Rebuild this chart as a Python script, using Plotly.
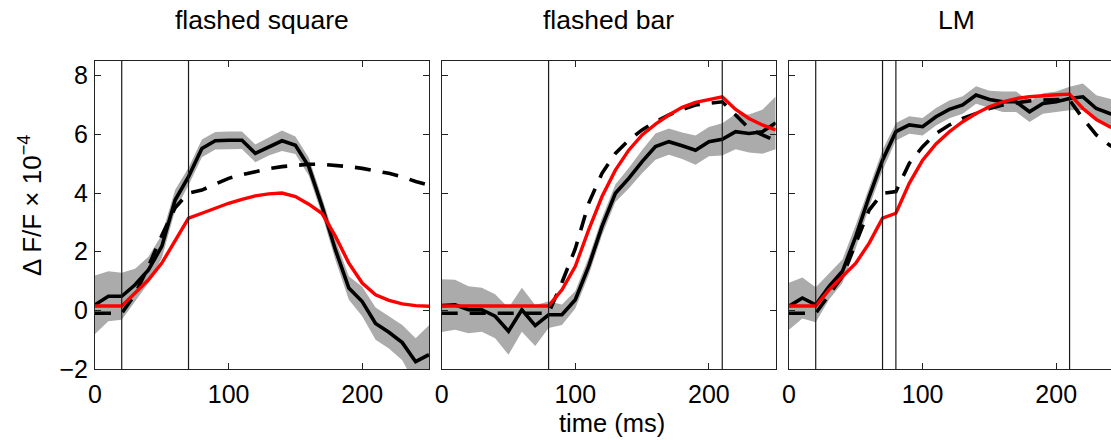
import plotly.graph_objects as go

# ---------------- data ----------------
t = [0, 10, 20, 30, 40, 50, 60, 70, 80, 90, 100, 110, 120, 130, 140, 150,
     160, 170, 180, 190, 200, 210, 220, 230, 240, 250]

titles = ["flashed square", "flashed bar", "LM"]

# flashed square
sq_mean = [0.19, 0.48, 0.48, 0.87, 1.38, 2.18, 3.76, 4.56, 5.52, 5.78, 5.8, 5.8, 5.35,
           5.58, 5.78, 5.63, 4.9, 3.54, 2.06, 0.76, 0.3, -0.45, -0.75, -1.1, -1.75, -1.51]
sq_sem = [1.0, 0.85, 0.8, 0.55, 0.45, 0.4, 0.35, 0.3, 0.3, 0.3, 0.3, 0.3, 0.3,
          0.3, 0.35, 0.3, 0.3, 0.3, 0.35, 0.4, 0.5, 0.55, 0.55, 0.6, 0.8, 1.0]
sq_model1 = [-0.1, -0.1, -0.1, 0.55, 1.5, 2.55, 3.5, 4.0, 4.1, 4.3, 4.5, 4.62, 4.73,
             4.83, 4.9, 4.95, 4.98, 4.98, 4.95, 4.9, 4.84, 4.77, 4.67, 4.55, 4.39, 4.27]
sq_model2 = [0.15, 0.15, 0.15, 0.59, 1.04, 1.61, 2.4, 3.14, 3.31, 3.48, 3.65, 3.78, 3.9,
             3.97, 4.0, 3.88, 3.62, 3.3, 2.52, 1.61, 0.93, 0.53, 0.34, 0.22, 0.16, 0.14]

# flashed bar
bar_mean = [0.16, 0.19, 0.02, 0.02, -0.2, -0.71, 0.02, -0.52, -0.15, -0.15, 0.36, 1.5, 2.86,
            3.99, 4.5, 5.07, 5.58, 5.75, 5.61, 5.46, 5.75, 5.83, 6.09, 6.03, 6.09, 6.39]
bar_sem = [0.9, 0.85, 0.8, 0.75, 0.75, 0.8, 0.75, 0.7, 0.45, 0.35, 0.3, 0.3, 0.3,
           0.3, 0.35, 0.4, 0.45, 0.45, 0.45, 0.5, 0.5, 0.55, 0.6, 0.65, 0.75, 0.9]
bar_model1 = [-0.1, -0.1, -0.1, -0.1, -0.1, -0.1, -0.1, -0.1, -0.1, 0.95, 2.1, 3.65, 4.67,
              5.35, 5.8, 6.15, 6.43, 6.66, 6.85, 7.0, 7.07, 7.11, 6.66, 6.2, 5.98, 5.78]
bar_model2 = [0.15, 0.15, 0.15, 0.15, 0.15, 0.15, 0.15, 0.15, 0.15, 0.7, 1.5, 2.74, 3.88,
              4.78, 5.46, 5.98, 6.35, 6.66, 6.92, 7.09, 7.19, 7.28, 6.85, 6.54, 6.32, 6.15]

# LM
lm_mean = [0.14, 0.42, 0.19, 0.82, 1.33, 2.52, 3.88, 5.12, 6.09, 6.32, 6.26, 6.6, 6.85,
           7.0, 7.34, 7.19, 7.11, 7.11, 6.77, 7.05, 7.11, 7.22, 7.28, 6.88, 6.71, 6.6]
lm_sem = [0.8, 0.7, 0.6, 0.45, 0.4, 0.4, 0.35, 0.35, 0.3, 0.3, 0.3, 0.3, 0.3,
          0.3, 0.3, 0.3, 0.35, 0.35, 0.35, 0.35, 0.35, 0.4, 0.45, 0.45, 0.5, 0.5]
lm_model1 = [-0.1, -0.1, -0.1, 0.53, 1.16, 2.29, 3.42, 3.99, 4.05, 5.01, 5.58, 6.03, 6.32,
             6.54, 6.71, 6.88, 7.0, 7.07, 7.14, 7.17, 7.19, 7.17, 6.54, 5.98, 5.63, 5.4]
lm_model2 = [0.15, 0.15, 0.15, 0.7, 1.16, 1.61, 2.29, 3.14, 3.31, 4.33, 5.12, 5.67, 6.09,
             6.43, 6.71, 6.94, 7.11, 7.22, 7.28, 7.32, 7.35, 7.37, 6.88, 6.51, 6.26, 6.1]

event_times = [[20, 70], [80, 210], [20, 70, 80, 210]]

x_ticks = [0, 100, 200]
y_ticks = [-2, 0, 2, 4, 6, 8]
y_range = [-2, 8.5]
x_ranges = [[0, 250], [0, 250], [0, 241]]

panels = [
    (sq_mean, sq_sem, sq_model1, sq_model2),
    (bar_mean, bar_sem, bar_model1, bar_model2),
    (lm_mean, lm_sem, lm_model1, lm_model2),
]

# ---------------- figure ----------------
FONT = "Liberation Sans, Arial, Helvetica, sans-serif"
W, H = 1111, 440
ML, MR, MT, MB = 95, 0, 61, 71
PW = W - ML - MR
PH = H - MT - MB

px_domains = [(95, 429), (441.7, 775.7), (789, 1111)]
domains = [[(a - ML) / PW, min(1.0, (b - ML) / PW)] for a, b in px_domains]

fig = go.Figure()
for i, (mean, sem, m1, m2) in enumerate(panels):
    xa = "x" if i == 0 else f"x{i+1}"
    ya = "y" if i == 0 else f"y{i+1}"
    upper = [m + s for m, s in zip(mean, sem)]
    lower = [m - s for m, s in zip(mean, sem)]
    fig.add_trace(go.Scatter(x=t + t[::-1], y=upper + lower[::-1], fill="toself",
                             fillcolor="#ababab", line=dict(width=0), mode="lines",
                             hoverinfo="skip", showlegend=False, xaxis=xa, yaxis=ya))
    fig.add_trace(go.Scatter(x=t, y=mean, mode="lines", line=dict(color="black", width=3.6),
                             showlegend=False, xaxis=xa, yaxis=ya))
    fig.add_trace(go.Scatter(x=t, y=m1, mode="lines",
                             line=dict(color="black", width=3.6, dash="16px,12px"),
                             showlegend=False, xaxis=xa, yaxis=ya))
    fig.add_trace(go.Scatter(x=t, y=m2, mode="lines", line=dict(color="#ff0000", width=3.4),
                             showlegend=False, xaxis=xa, yaxis=ya))
    for ev in event_times[i]:
        fig.add_shape(type="line", x0=ev, x1=ev, y0=0, y1=1, xref=xa, yref=f"{ya} domain",
                      line=dict(color="#1a1a1a", width=1.2), layer="above")

axis_common = dict(showgrid=False, zeroline=False, showline=True, linecolor="#222",
                   linewidth=1, ticks="inside", ticklen=6, tickcolor="#222",
                   tickfont=dict(family=FONT, size=25, color="black"))

for i in range(3):
    sfx = "" if i == 0 else str(i + 1)
    fig.update_layout(**{
        f"xaxis{sfx}": dict(axis_common, domain=domains[i], range=x_ranges[i],
                            tickvals=x_ticks, mirror="ticks", anchor=f"y{sfx}",
                            ticklabelstandoff=3),
        f"yaxis{sfx}": dict(axis_common, range=y_range, tickvals=y_ticks,
                            mirror=("ticks" if i < 2 else False), anchor=f"x{sfx}",
                            showticklabels=(i == 0), ticklabelstandoff=1),
    })

def px2paper_x(px):
    return (px - ML) / PW

def py2paper_y(py):
    return (H - MB - py) / PH

title_centers = [262, 608.7, 956]
for txt, cx in zip(titles, title_centers):
    fig.add_annotation(text=txt, x=px2paper_x(cx), y=py2paper_y(20), xref="paper",
                       yref="paper", showarrow=False, xanchor="center", yanchor="middle",
                       font=dict(family=FONT, size=26.5, color="black"))

fig.add_annotation(text="time (ms)", x=px2paper_x(611.5), y=py2paper_y(423), xref="paper",
                   yref="paper", showarrow=False, xanchor="center", yanchor="middle",
                   font=dict(family=FONT, size=25.5, color="black"))
fig.add_annotation(text="Δ F/F × 10<sup>−4</sup>", x=px2paper_x(30), y=py2paper_y(206),
                   xref="paper", yref="paper", showarrow=False, textangle=-90,
                   xanchor="center", yanchor="middle",
                   font=dict(family=FONT, size=26, color="black"))

fig.update_layout(width=W, height=H, margin=dict(l=ML, r=MR, t=MT, b=MB),
                  paper_bgcolor="white", plot_bgcolor="white", showlegend=False)

fig.write_html("out.html", config={"displayModeBar": False})
